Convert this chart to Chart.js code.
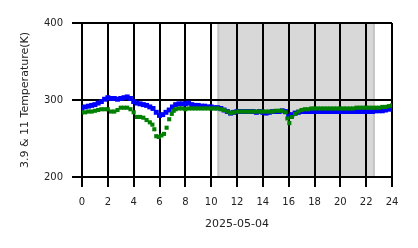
<!DOCTYPE html>
<html>
<head>
<meta charset="utf-8">
<script src="https://cdn.jsdelivr.net/npm/chart.js@4.4.1/dist/chart.umd.min.js"></script>
<style>
  html, body { margin: 0; padding: 0; background: #ffffff; }
  #wrap { width: 418px; height: 248px; }
</style>
</head>
<body>
<div id="wrap"><canvas id="tempChart" width="418" height="248"></canvas></div>
<script>
// Hour ticks and temperature ticks
const hourTicks = [0, 2, 4, 6, 8, 10, 12, 14, 16, 18, 20, 22, 24];
const tempTicks = [200, 300, 400];

// Shaded (night) span in hours
const shadeSpan = [10.55, 22.6];

// 3.9 um channel (blue)
const blueHours = [
  0, 0.25, 0.5, 0.75, 1, 1.25, 1.5, 1.75, 2, 2.25, 2.5, 2.75, 3, 3.25, 3.5, 3.75,
  4, 4.25, 4.5, 4.75, 5, 5.25, 5.5, 5.75, 6, 6.25, 6.5, 6.75, 7, 7.25, 7.5, 7.75,
  8, 8.25, 8.5, 8.75, 9, 9.25, 9.5, 9.75, 10, 10.25, 10.5, 10.75, 11, 11.25, 11.5, 11.75,
  12, 12.25, 12.5, 12.75, 13, 13.25, 13.5, 13.75, 14, 14.25, 14.5, 14.75, 15, 15.25, 15.5, 15.75,
  16, 16.25, 16.5, 16.75, 17, 17.25, 17.5, 17.75, 18, 18.25, 18.5, 18.75, 19, 19.25, 19.5, 19.75,
  20, 20.25, 20.5, 20.75, 21, 21.25, 21.5, 21.75, 22, 22.25, 22.5, 22.75, 23, 23.25, 23.5, 23.75, 24
];
const blueTemps = [
  290, 291, 292, 293, 294, 296, 298, 301, 303, 302, 302, 301, 302, 303, 304, 302,
  298, 296, 295, 294, 293, 291, 289, 284, 280, 281, 284, 287, 291, 294, 295, 295,
  295, 296, 294, 293, 293, 292, 292, 291, 291, 290, 290, 289, 287, 285, 283, 284,
  285, 285, 285, 285, 285, 285, 284, 285, 284, 283, 284, 285, 285, 285, 286, 285,
  279, 281, 283, 284, 285, 285, 285, 285, 285, 285, 285, 285, 285, 285, 285, 285,
  285, 285, 285, 285, 285, 285, 285, 285, 285, 285, 285, 286, 286, 286, 287, 288, 289
];

// 11 um channel (green)
const greenHours = [
  0, 0.25, 0.5, 0.75, 1, 1.25, 1.5, 1.75, 2, 2.25, 2.5, 2.75, 3, 3.25, 3.5, 3.75,
  4, 4.25, 4.5, 4.75, 5, 5.25, 5.45, 5.6, 5.75, 5.95, 6.15, 6.35, 6.55, 6.75, 6.95, 7.1, 7.25,
  7.5, 7.75, 8, 8.25, 8.5, 8.75, 9, 9.25, 9.5, 9.75, 10, 10.25, 10.5, 10.75, 11, 11.25, 11.5, 11.75,
  12, 12.25, 12.5, 12.75, 13, 13.25, 13.5, 13.75, 14, 14.25, 14.5, 14.75, 15, 15.25, 15.5, 15.75,
  15.9, 16.05, 16.25, 16.5, 16.75, 17, 17.25, 17.5, 17.75, 18, 18.25, 18.5, 18.75, 19, 19.25, 19.5, 19.75,
  20, 20.25, 20.5, 20.75, 21, 21.25, 21.5, 21.75, 22, 22.25, 22.5, 22.75, 23, 23.25, 23.5, 23.75, 24
];
const greenTemps = [
  284, 284, 285, 285, 286, 287, 288, 288, 288, 285, 285, 287, 290, 290, 290, 288,
  284, 278, 278, 277, 274, 271, 268, 262, 253, 252, 254, 256, 264, 275, 282, 286, 288,
  289, 289, 288, 289, 289, 289, 289, 289, 289, 289, 289, 289, 289, 288, 287, 285, 283, 284,
  285, 285, 285, 285, 285, 285, 285, 285, 285, 285, 285, 285, 286, 286, 286, 284,
  276, 270, 278, 282, 285, 287, 288, 288, 289, 289, 289, 289, 289, 289, 289, 289, 289,
  289, 289, 289, 289, 289, 290, 290, 290, 290, 290, 290, 290, 290, 291, 291, 292, 293
];

// Draw the shaded span under the grid
const shadePlugin = {
  id: "shade",
  beforeDraw(chart) {
    const { ctx, chartArea, scales } = chart;
    const x0 = scales.x.getPixelForValue(shadeSpan[0]);
    const x1 = scales.x.getPixelForValue(shadeSpan[1]);
    ctx.save();
    ctx.fillStyle = "#d8d8d8";
    ctx.fillRect(x0, chartArea.top, x1 - x0, chartArea.bottom - chartArea.top);
    ctx.strokeStyle = "#c4c4c4";
    ctx.lineWidth = 2;
    ctx.strokeRect(x0, chartArea.top, x1 - x0, chartArea.bottom - chartArea.top);
    ctx.restore();
  },
};

function toPoints(xs, ys) {
  return xs.map((x, i) => ({ x: x, y: ys[i] }));
}

const tickFont = { family: "DejaVu Sans", size: 10 };
const titleFont = { family: "DejaVu Sans", size: 11 };

new Chart(document.getElementById("tempChart").getContext("2d"), {
  type: "scatter",
  data: {
    datasets: [
      {
        label: "3.9",
        data: toPoints(blueHours, blueTemps),
        backgroundColor: "#0000ff",
        pointStyle: "rect",
        pointRadius: 3.5,
        pointBorderWidth: 0,
        order: 1,
      },
      {
        label: "11",
        data: toPoints(greenHours, greenTemps),
        backgroundColor: "#008000",
        pointStyle: "rect",
        pointRadius: 2.9,
        pointBorderWidth: 0,
        order: 0,
      },
    ],
  },
  options: {
    responsive: false,
    animation: false,
    events: [],
    layout: { padding: { top: 23, right: 26, left: 0, bottom: 0 } },
    plugins: {
      legend: { display: false },
      tooltip: { enabled: false },
    },
    scales: {
      x: {
        type: "linear",
        min: 0,
        max: 24,
        afterBuildTicks: (axis) => {
          axis.ticks = hourTicks.map((v) => ({ value: v }));
        },
        afterFit: (axis) => {
          axis.height = 71;
        },
        grid: { color: "#000000", lineWidth: 2, tickLength: 10 },
        border: { display: true, color: "#000000", width: 2 },
        ticks: { font: tickFont, color: "#222222", padding: 9, maxRotation: 0 },
        title: {
          display: true,
          text: "2025-05-04",
          font: titleFont,
          color: "#222222",
          padding: { top: 0, bottom: 17 },
        },
      },
      y: {
        min: 200,
        max: 400,
        afterBuildTicks: (axis) => {
          axis.ticks = tempTicks.map((v) => ({ value: v }));
        },
        afterFit: (axis) => {
          axis.width = 82;
        },
        grid: { color: "#000000", lineWidth: 2, tickLength: 10 },
        border: { display: true, color: "#000000", width: 2 },
        ticks: { font: tickFont, color: "#222222", padding: 9 },
        title: {
          display: true,
          text: "3.9 & 11 Temperature(K)",
          font: titleFont,
          color: "#222222",
          padding: { top: 19, bottom: 0 },
        },
      },
    },
  },
  plugins: [shadePlugin],
});
</script>
</body>
</html>
